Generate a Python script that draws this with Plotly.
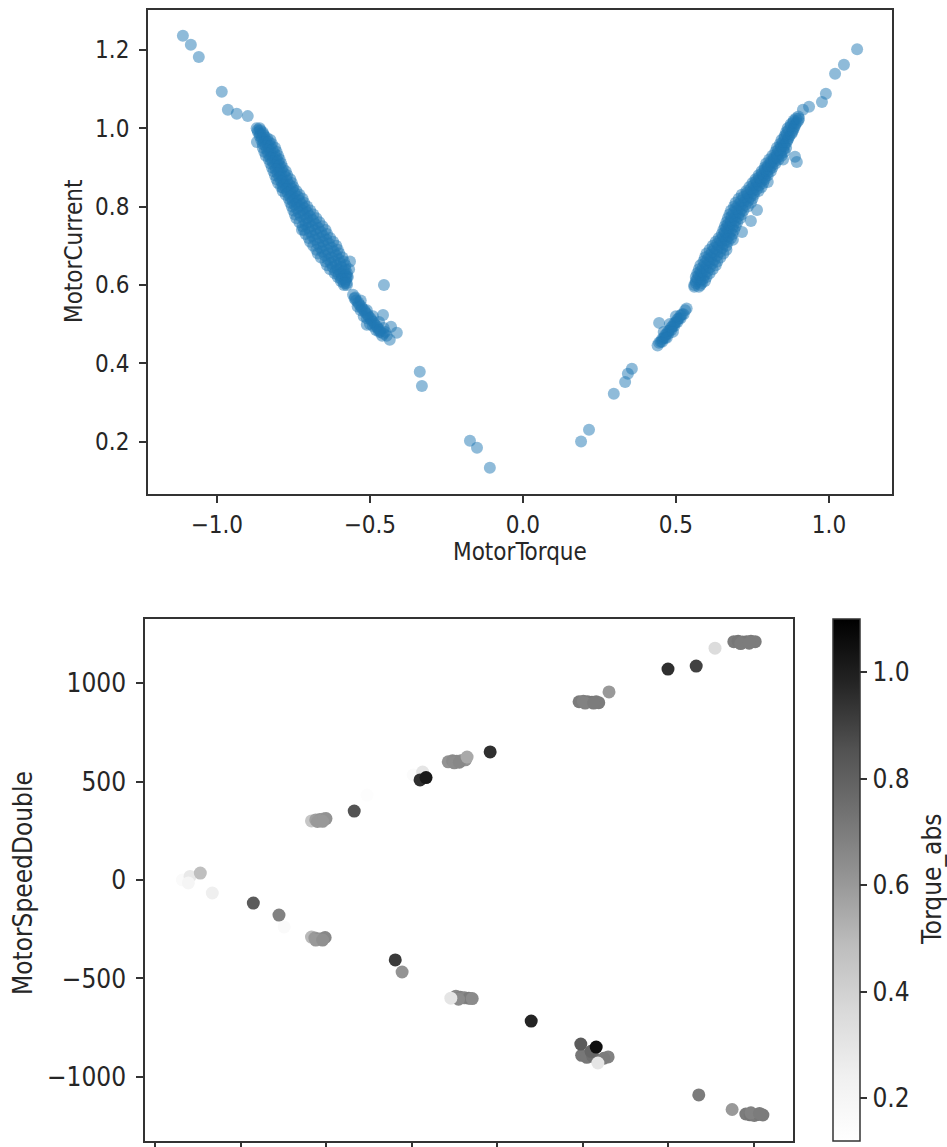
import plotly.graph_objects as go

# ---------------- top chart: MotorTorque vs MotorCurrent ----------------
# isolated points on the left branch
left_iso_torque = [-1.111, -1.085, -1.059, -0.984, -0.964, -0.935, -0.899, -0.869, -0.784, -0.722]
left_iso_current = [1.236, 1.213, 1.182, 1.093, 1.047, 1.037, 1.031, 0.965, 0.848, 0.741]

# dense left band
left_band_torque = [
    -0.87, -0.86, -0.865, -0.85,
    -0.86, -0.845, -0.855, -0.84, -0.825,
    -0.85, -0.835, -0.82, -0.85, -0.83, -0.81,
    -0.845, -0.825, -0.805, -0.84, -0.82, -0.80,
    -0.83, -0.81, -0.795, -0.825, -0.805, -0.79,
    -0.82, -0.80, -0.785, -0.815, -0.795, -0.775,
    -0.81, -0.79, -0.77, -0.805, -0.785, -0.76,
    -0.80, -0.78, -0.755, -0.79, -0.77, -0.75,
    -0.785, -0.76, -0.74, -0.775, -0.755, -0.73,
    -0.765, -0.745, -0.72, -0.76, -0.74, -0.715,
    -0.755, -0.73, -0.705, -0.75, -0.72, -0.695,
    -0.745, -0.715, -0.685, -0.74, -0.705, -0.675,
    -0.73, -0.70, -0.665, -0.72, -0.69, -0.655,
    -0.715, -0.68, -0.645, -0.71, -0.675, -0.64,
    -0.70, -0.665, -0.63, -0.695, -0.655, -0.62,
    -0.685, -0.65, -0.61, -0.675, -0.64, -0.605,
    -0.67, -0.635, -0.60, -0.66, -0.625, -0.59,
    -0.645, -0.615, -0.585, -0.64, -0.61, -0.58,
    -0.63, -0.605, -0.58, -0.615, -0.595, -0.575,
    -0.605, -0.59, -0.575, -0.595, -0.58,
    -0.585, -0.575,
    -0.565, -0.568, -0.572,
]
left_band_current = [
    1.00, 1.00, 0.99, 0.99,
    0.98, 0.98, 0.97, 0.97, 0.97,
    0.96, 0.96, 0.96, 0.95, 0.95, 0.95,
    0.94, 0.94, 0.94, 0.93, 0.93, 0.93,
    0.92, 0.92, 0.92, 0.91, 0.91, 0.91,
    0.90, 0.90, 0.90, 0.89, 0.89, 0.89,
    0.88, 0.88, 0.88, 0.87, 0.87, 0.87,
    0.86, 0.86, 0.86, 0.85, 0.85, 0.85,
    0.84, 0.84, 0.84, 0.83, 0.83, 0.83,
    0.82, 0.82, 0.82, 0.81, 0.81, 0.81,
    0.80, 0.80, 0.80, 0.79, 0.79, 0.79,
    0.78, 0.78, 0.78, 0.77, 0.77, 0.77,
    0.76, 0.76, 0.76, 0.75, 0.75, 0.75,
    0.74, 0.74, 0.74, 0.73, 0.73, 0.73,
    0.72, 0.72, 0.72, 0.71, 0.71, 0.71,
    0.70, 0.70, 0.70, 0.69, 0.69, 0.69,
    0.68, 0.68, 0.68, 0.67, 0.67, 0.67,
    0.66, 0.66, 0.66, 0.65, 0.65, 0.65,
    0.64, 0.64, 0.64, 0.63, 0.63, 0.63,
    0.62, 0.62, 0.62, 0.61, 0.61,
    0.60, 0.60,
    0.66, 0.64, 0.62,
]
# in-between rows of the left band
left_fill_torque = [
    -0.867, -0.858, -0.858, -0.848, -0.852, -0.836, -0.845, -0.83,
    -0.841, -0.824, -0.836, -0.818, -0.832, -0.812, -0.825, -0.806,
    -0.818, -0.80, -0.812, -0.795, -0.807, -0.789, -0.801, -0.781,
    -0.795, -0.774, -0.79, -0.77, -0.783, -0.762, -0.774, -0.753,
    -0.769, -0.746, -0.76, -0.735, -0.752, -0.73, -0.746, -0.722,
    -0.739, -0.712, -0.732, -0.704, -0.726, -0.695, -0.714, -0.686,
    -0.71, -0.677, -0.701, -0.668, -0.695, -0.66, -0.688, -0.652,
    -0.679, -0.642, -0.67, -0.634, -0.662, -0.625, -0.655, -0.618,
    -0.647, -0.61, -0.636, -0.601, -0.627, -0.597, -0.621, -0.594,
    -0.612, -0.585, -0.601, -0.579, -0.593, -0.578, -0.584, -0.576,
]
left_fill_current = [
    0.995, 0.995, 0.985, 0.985, 0.975, 0.975, 0.965, 0.965,
    0.955, 0.955, 0.945, 0.945, 0.935, 0.935, 0.925, 0.925,
    0.915, 0.915, 0.905, 0.905, 0.895, 0.895, 0.885, 0.885,
    0.875, 0.875, 0.865, 0.865, 0.855, 0.855, 0.845, 0.845,
    0.835, 0.835, 0.825, 0.825, 0.815, 0.815, 0.805, 0.805,
    0.795, 0.795, 0.785, 0.785, 0.775, 0.775, 0.765, 0.765,
    0.755, 0.755, 0.745, 0.745, 0.735, 0.735, 0.725, 0.725,
    0.715, 0.715, 0.705, 0.705, 0.695, 0.695, 0.685, 0.685,
    0.675, 0.675, 0.665, 0.665, 0.655, 0.655, 0.645, 0.645,
    0.635, 0.635, 0.625, 0.625, 0.615, 0.615, 0.605, 0.605,
]

# lower left cluster and the points towards zero
left_low_torque = [-0.555, -0.545, -0.535, -0.525, -0.515, -0.505, -0.495, -0.485, -0.475, -0.465,
                   -0.455, -0.445, -0.54, -0.52, -0.50, -0.48, -0.46, -0.51, -0.49, -0.47, -0.455,
                   -0.55, -0.53, -0.53, -0.51, -0.49, -0.47, -0.45,
                   -0.548, -0.538, -0.528, -0.518, -0.508, -0.498, -0.488, -0.478, -0.468,
                   -0.51, -0.457, -0.431, -0.412, -0.435, -0.454,
                   -0.337, -0.330, -0.173, -0.150, -0.108]
left_low_current = [0.575, 0.56, 0.55, 0.54, 0.53, 0.52, 0.51, 0.50, 0.49, 0.48,
                    0.475, 0.47, 0.545, 0.52, 0.50, 0.485, 0.47, 0.535, 0.52, 0.505, 0.49,
                    0.565, 0.56, 0.535, 0.515, 0.495, 0.48, 0.48,
                    0.568, 0.555, 0.545, 0.535, 0.525, 0.515, 0.505, 0.495, 0.485,
                    0.498, 0.523, 0.493, 0.478, 0.460, 0.600,
                    0.378, 0.342, 0.202, 0.184, 0.133]

# right side: points from zero up to the lower right cluster
right_low_torque = [0.190, 0.216, 0.297, 0.334, 0.343, 0.356,
                    0.44, 0.45, 0.46, 0.47, 0.48, 0.49, 0.50, 0.51, 0.52, 0.53,
                    0.455, 0.465, 0.475, 0.485, 0.495, 0.505, 0.515, 0.525,
                    0.445, 0.455, 0.465, 0.475, 0.485, 0.495, 0.505, 0.515,
                    0.46, 0.48, 0.50, 0.47, 0.49, 0.445, 0.535]
right_low_current = [0.200, 0.230, 0.322, 0.352, 0.373, 0.386,
                     0.445, 0.455, 0.465, 0.475, 0.485, 0.495, 0.505, 0.515, 0.525, 0.535,
                     0.455, 0.465, 0.475, 0.485, 0.495, 0.505, 0.515, 0.525,
                     0.452, 0.462, 0.472, 0.482, 0.492, 0.502, 0.512, 0.522,
                     0.48, 0.50, 0.52, 0.465, 0.48, 0.503, 0.54]

# dense right band
right_band_torque = [
    0.56, 0.575, 0.56, 0.58,
    0.565, 0.58, 0.595, 0.565, 0.58, 0.60,
    0.57, 0.585, 0.61, 0.575, 0.595, 0.62,
    0.58, 0.60, 0.63, 0.59, 0.61, 0.635,
    0.595, 0.615, 0.645, 0.60, 0.625, 0.655,
    0.61, 0.635, 0.665, 0.62, 0.64, 0.665,
    0.63, 0.65, 0.67, 0.64, 0.66, 0.68,
    0.65, 0.665, 0.685, 0.655, 0.67, 0.69,
    0.66, 0.675, 0.695, 0.665, 0.68, 0.70,
    0.67, 0.69, 0.71, 0.675, 0.695, 0.715,
    0.68, 0.70, 0.72, 0.69, 0.71, 0.735,
    0.695, 0.72, 0.745, 0.705, 0.73, 0.75,
    0.715, 0.735, 0.755, 0.73, 0.75, 0.77,
    0.74, 0.76, 0.78, 0.75, 0.765, 0.785,
    0.76, 0.775, 0.79, 0.77, 0.785, 0.80,
    0.78, 0.795, 0.81, 0.79, 0.80, 0.815,
    0.795, 0.81, 0.825, 0.805, 0.82, 0.835,
    0.815, 0.83, 0.845, 0.825, 0.84, 0.855,
    0.83, 0.845, 0.86, 0.84, 0.855,
    0.845, 0.865, 0.855, 0.87,
    0.86, 0.88, 0.865, 0.885,
    0.875, 0.89, 0.885, 0.90,
    0.90,
]
right_band_current = [
    0.595, 0.595, 0.60, 0.60,
    0.61, 0.61, 0.61, 0.62, 0.62, 0.62,
    0.63, 0.63, 0.63, 0.64, 0.64, 0.64,
    0.65, 0.65, 0.65, 0.66, 0.66, 0.66,
    0.67, 0.67, 0.67, 0.68, 0.68, 0.68,
    0.69, 0.69, 0.69, 0.70, 0.70, 0.70,
    0.71, 0.71, 0.71, 0.72, 0.72, 0.72,
    0.73, 0.73, 0.73, 0.74, 0.74, 0.74,
    0.75, 0.75, 0.75, 0.76, 0.76, 0.76,
    0.77, 0.77, 0.77, 0.78, 0.78, 0.78,
    0.79, 0.79, 0.79, 0.80, 0.80, 0.80,
    0.81, 0.81, 0.81, 0.82, 0.82, 0.82,
    0.83, 0.83, 0.83, 0.84, 0.84, 0.84,
    0.85, 0.85, 0.85, 0.86, 0.86, 0.86,
    0.87, 0.87, 0.87, 0.88, 0.88, 0.88,
    0.89, 0.89, 0.89, 0.90, 0.90, 0.90,
    0.91, 0.91, 0.91, 0.92, 0.92, 0.92,
    0.93, 0.93, 0.93, 0.94, 0.94, 0.94,
    0.95, 0.95, 0.95, 0.96, 0.96,
    0.97, 0.97, 0.98, 0.98,
    0.99, 0.99, 1.00, 1.00,
    1.01, 1.01, 1.02, 1.02,
    1.03,
]
# in-between rows of the right band
right_fill_torque = [
    0.565, 0.585, 0.57, 0.588, 0.575, 0.594, 0.581, 0.603,
    0.588, 0.611, 0.595, 0.619, 0.603, 0.626, 0.609, 0.635,
    0.618, 0.645, 0.626, 0.651, 0.635, 0.656, 0.645, 0.665,
    0.654, 0.673, 0.66, 0.678, 0.665, 0.683, 0.67, 0.688,
    0.679, 0.695, 0.682, 0.703, 0.688, 0.708, 0.695, 0.716,
    0.704, 0.728, 0.713, 0.736, 0.721, 0.743, 0.732, 0.754,
    0.745, 0.765, 0.754, 0.773, 0.762, 0.78, 0.772, 0.79,
    0.782, 0.798, 0.791, 0.805, 0.801, 0.813, 0.81, 0.822,
    0.82, 0.832, 0.83, 0.843, 0.835, 0.85, 0.843, 0.855,
    0.85, 0.862, 0.855, 0.868, 0.862, 0.876, 0.868, 0.882,
    0.875, 0.888, 0.883, 0.895, 0.892, 0.902,
]
right_fill_current = [
    0.605, 0.605, 0.615, 0.615, 0.625, 0.625, 0.635, 0.635,
    0.645, 0.645, 0.655, 0.655, 0.665, 0.665, 0.675, 0.675,
    0.685, 0.685, 0.695, 0.695, 0.705, 0.705, 0.715, 0.715,
    0.725, 0.725, 0.735, 0.735, 0.745, 0.745, 0.755, 0.755,
    0.765, 0.765, 0.775, 0.775, 0.785, 0.785, 0.795, 0.795,
    0.805, 0.805, 0.815, 0.815, 0.825, 0.825, 0.835, 0.835,
    0.845, 0.845, 0.855, 0.855, 0.865, 0.865, 0.875, 0.875,
    0.885, 0.885, 0.895, 0.895, 0.905, 0.905, 0.915, 0.915,
    0.925, 0.925, 0.935, 0.935, 0.945, 0.945, 0.955, 0.955,
    0.965, 0.965, 0.975, 0.975, 0.985, 0.985, 0.995, 0.995,
    1.005, 1.005, 1.015, 1.015, 1.025, 1.025,
]

# outliers next to the right band and the points above it
right_iso_torque = [0.889, 0.895, 0.850, 0.800, 0.765, 0.745, 0.716, 0.686,
                    0.915, 0.935, 0.977, 0.990, 1.020, 1.049, 1.092]
right_iso_current = [0.927, 0.914, 0.920, 0.863, 0.791, 0.763, 0.735, 0.715,
                     1.047, 1.055, 1.067, 1.088, 1.139, 1.162, 1.202]

motor_torque = (left_iso_torque + left_band_torque + left_fill_torque + left_low_torque
                + right_low_torque + right_band_torque + right_fill_torque + right_iso_torque)
motor_current = (left_iso_current + left_band_current + left_fill_current + left_low_current
                 + right_low_current + right_band_current + right_fill_current + right_iso_current)

# ---------------- bottom chart: MotorSpeedDouble coloured by Torque_abs ----------------
sample_pos = [
    0.32, 0.41, 0.53, 0.39, 0.67, 1.15, 1.45, 1.51,
    1.83, 1.87, 1.91, 1.95, 1.99, 1.88, 1.96,
    2.81, 2.89,
    3.52, 3.57, 3.62, 3.67, 3.71, 3.55, 3.46,
    4.40,
    4.99, 5.05, 5.12, 5.30, 5.25, 5.10, 4.98, 5.16, 5.18,
    6.36, 6.75,
    6.91, 6.96, 7.01, 7.06, 7.11, 6.97, 7.07,
    1.83, 1.88, 1.93, 1.97, 2.00, 1.90, 1.96,
    2.33, 2.48, 3.02, 3.13, 3.10, 3.17,
    3.43, 3.48, 3.53, 3.58, 3.63, 3.50, 3.56, 3.65,
    3.92,
    4.96, 5.01, 5.06, 5.11, 5.16, 5.19, 5.03, 5.13,
    5.31, 6.00, 6.33, 6.55,
    6.77, 6.82, 6.87, 6.92, 6.97, 7.02, 6.85, 6.95,
]
motor_speed = [
    0, 18, 35, -15, -66, -117, -178, -238,
    -290, -295, -300, -298, -292, -305, -305,
    -406, -467,
    -590, -595, -598, -600, -602, -605, -600,
    -716,
    -890, -900, -895, -898, -905, -870, -833, -848, -929,
    -1091, -1165,
    -1188, -1192, -1195, -1190, -1193, -1182, -1185,
    300, 305, 307, 310, 312, 297, 298,
    350, 431, 533, 548, 508, 520,
    600, 605, 603, 606, 610, 595, 598, 624,
    650,
    905, 908, 905, 903, 905, 900, 898, 898,
    955, 1071, 1086, 1177,
    1210, 1212, 1208, 1210, 1212, 1210, 1200, 1202,
]
torque_abs = [
    0.16, 0.28, 0.48, 0.20, 0.25, 0.82, 0.68, 0.16,
    0.50, 0.60, 0.65, 0.62, 0.66, 0.60, 0.63,
    0.92, 0.62,
    0.65, 0.68, 0.66, 0.70, 0.65, 0.65, 0.30,
    0.98,
    0.72, 0.72, 0.75, 0.68, 0.70, 0.78, 0.82, 1.05, 0.30,
    0.70, 0.60,
    0.70, 0.72, 0.70, 0.72, 0.70, 0.68, 0.70,
    0.45, 0.58, 0.62, 0.60, 0.62, 0.60, 0.60,
    0.85, 0.14, 0.15, 0.30, 0.95, 1.02,
    0.62, 0.65, 0.66, 0.64, 0.62, 0.64, 0.66, 0.55,
    0.95,
    0.70, 0.68, 0.70, 0.72, 0.70, 0.70, 0.68, 0.70,
    0.60, 0.95, 0.90, 0.35,
    0.70, 0.72, 0.70, 0.72, 0.70, 0.70, 0.70, 0.70,
]

top_x_ticks = [-1.0, -0.5, 0.0, 0.5, 1.0]
top_y_ticks = [0.2, 0.4, 0.6, 0.8, 1.0, 1.2]
bottom_x_ticks = [0, 1, 2, 3, 4, 5, 6, 7]
bottom_y_ticks = [-1000, -500, 0, 500, 1000]
bottom_y_labels = ["\u22121000", "\u2212500", "0", "500", "1000"]
cbar_ticks = [0.2, 0.4, 0.6, 0.8, 1.0]

W, H = 947, 1147
FONT = "DejaVu Sans Condensed, DejaVu Sans, sans-serif"
TXT = "#262626"
LINE = "#333333"
TOP_FS = 24
BOT_FS = 26

greys = [[0.0, "#ffffff"], [0.125, "#f0f0f0"], [0.25, "#d9d9d9"], [0.375, "#bdbdbd"],
         [0.5, "#969696"], [0.625, "#737373"], [0.75, "#525252"], [0.875, "#252525"],
         [1.0, "#000000"]]

fig = go.Figure()
fig.add_trace(go.Scatter(
    x=motor_torque, y=motor_current, mode="markers",
    marker=dict(size=12, color="#1f77b4", opacity=0.5, line=dict(width=0)),
    xaxis="x", yaxis="y",
))
fig.add_trace(go.Scatter(
    x=sample_pos, y=motor_speed, mode="markers",
    marker=dict(size=13, color=torque_abs, colorscale=greys, cmin=0.12, cmax=1.10,
                line=dict(width=0),
                colorbar=dict(
                    x=833 / W, xanchor="left", xpad=0,
                    y=(H - 1141) / H, yanchor="bottom", ypad=0,
                    len=522, lenmode="pixels", thickness=27, thicknessmode="pixels",
                    outlinewidth=1.5, outlinecolor=LINE,
                    ticks="outside", ticklen=7, tickwidth=1.5, tickcolor=LINE,
                    tickvals=cbar_ticks, ticktext=["%.1f" % v for v in cbar_ticks],
                    tickfont=dict(size=BOT_FS, color=TXT, family=FONT),
                )),
    xaxis="x2", yaxis="y2",
))

axis_common = dict(showline=True, mirror=True, linecolor=LINE, linewidth=1.5,
                   ticks="outside", ticklen=7, tickwidth=1.5, tickcolor=LINE,
                   showgrid=False, zeroline=False)

fig.update_layout(
    width=W, height=H,
    margin=dict(l=0, r=0, t=0, b=0),
    paper_bgcolor="white", plot_bgcolor="white",
    showlegend=False,
    font=dict(family=FONT, color=TXT),
    xaxis=dict(domain=[148 / W, 892 / W], anchor="y", range=[-1.225, 1.206],
               tickvals=top_x_ticks,
               ticktext=["%.1f" % v if v >= 0 else "\u2212%.1f" % -v for v in top_x_ticks],
               tickfont=dict(size=TOP_FS), ticklabelstandoff=1, **axis_common),
    yaxis=dict(domain=[1 - 494 / H, 1 - 10 / H], anchor="x", range=[0.066, 1.302],
               tickvals=top_y_ticks, ticktext=["%.1f" % v for v in top_y_ticks],
               tickfont=dict(size=TOP_FS), ticklabelstandoff=5, **axis_common),
    xaxis2=dict(domain=[145 / W, 793 / W], anchor="y2", range=[-0.117, 7.462],
                tickvals=bottom_x_ticks, showticklabels=False, **axis_common),
    yaxis2=dict(domain=[1 - 1141 / H, 1 - 619 / H], anchor="x2", range=[-1325, 1325],
                tickvals=bottom_y_ticks, ticktext=bottom_y_labels,
                tickfont=dict(size=BOT_FS), ticklabelstandoff=5, **axis_common),
    annotations=[
        dict(text="MotorCurrent", x=74 / W, y=1 - 252 / H, xref="paper", yref="paper",
             xanchor="center", yanchor="middle",
             textangle=-90, showarrow=False, font=dict(size=TOP_FS)),
        dict(text="MotorTorque", x=520 / W, y=1 - 552 / H, xref="paper", yref="paper",
             xanchor="center", yanchor="middle",
             showarrow=False, font=dict(size=TOP_FS)),
        dict(text="MotorSpeedDouble", x=23 / W, y=1 - 883 / H, xref="paper", yref="paper",
             xanchor="center", yanchor="middle",
             textangle=-90, showarrow=False, font=dict(size=BOT_FS)),
        dict(text="Torque_abs", x=932 / W, y=1 - 880 / H, xref="paper", yref="paper",
             xanchor="center", yanchor="middle",
             textangle=-90, showarrow=False, font=dict(size=BOT_FS)),
    ],
)

fig.write_html("out.html", config={"displayModeBar": False},
               post_script="document.body.style.margin='0px';")
